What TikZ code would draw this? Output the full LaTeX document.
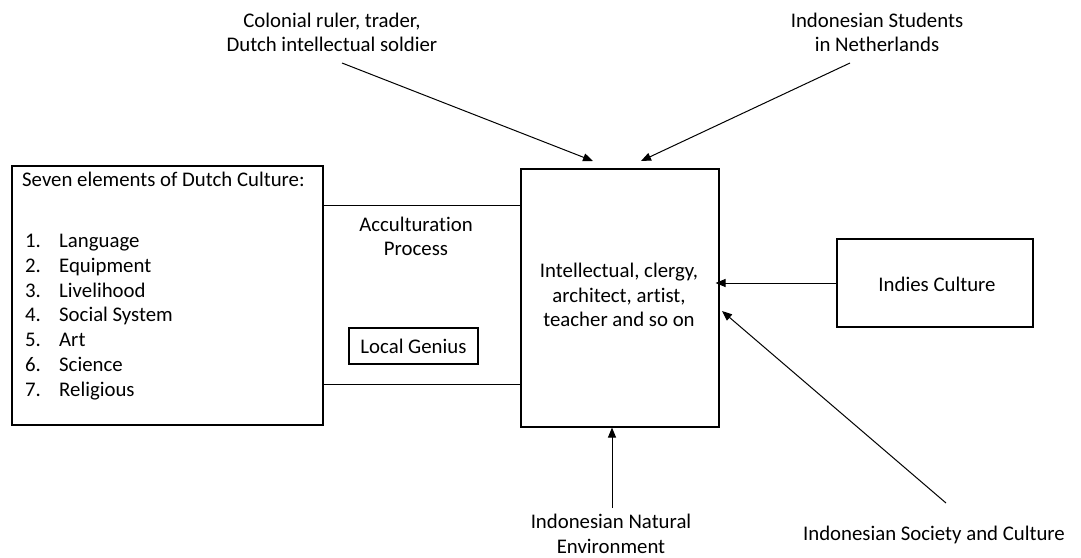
\documentclass[tikz,border=0pt]{standalone}
\usepackage{fontspec}
\setmainfont{Carlito}[Ligatures=NoCommon]
\usetikzlibrary{arrows.meta}
\begin{document}
\begin{tikzpicture}[x=1pt,y=-1pt,
  box/.style={draw,line width=1.1pt,inner sep=0pt},
  lbl/.style={font=\fontsize{20.8}{24.5}\selectfont,align=center,inner sep=0pt},
  itm/.style={font=\fontsize{20.8}{24.5}\selectfont,anchor=base west,inner sep=0pt},
  conn/.style={line width=1pt},
  arr/.style={line width=1pt,-{Triangle[length=10pt,width=8pt]}}]
\useasboundingbox (0,0) rectangle (1081,557);
% boxes
\node[box,minimum width=311pt,minimum height=259pt] (dutch) at (167.5,295.5) {};
\node[box,minimum width=198pt,minimum height=258pt] (mid) at (620,298) {};
\node[box,minimum width=196pt,minimum height=88pt] (indies) at (935,283) {};
\node[box,minimum width=129pt,minimum height=36pt] (genius) at (413.5,346) {};
% texts
\node[itm] (t0) at (22,186.5) {Seven elements of Dutch Culture:};
\foreach \i/\w [count=\k from 0] in {1/Language,2/Equipment,3/Livelihood,4/Social System,5/Art,6/Science,7/Religious}{
  \node[itm] (n\i) at (25,247.5+24.8*\k) {\i.};
  \node[itm] (w\i) at (59,247.5+24.8*\k) {\w};
}
\node[lbl] (acc) at (416,236.5) {Acculturation\\Process};
\node[lbl] at (genius.center) {Local Genius};
\node[lbl] (midt) at (619,295) {Intellectual, clergy,\\architect, artist,\\teacher and so on};
\node[lbl] at (937,284) {Indies Culture};
\node[lbl] (colonial) at (332,32.5) {Colonial ruler, trader,\\Dutch intellectual soldier};
\node[lbl] (students) at (877,32.5) {Indonesian Students\\in Netherlands};
\node[lbl] (natural) at (611,534) {Indonesian Natural\\Environment};
\node[lbl] (society) at (934,535) {Indonesian Society and Culture};
% coordinates
\coordinate (c1) at (342,63);
\coordinate (c2) at (850,63);
\coordinate (c3) at (612,508);
\coordinate (c4) at (946,503);
\coordinate (e1) at (593,161);
\coordinate (e2) at (641,161);
\coordinate (e4) at (722,311);
% connectors
\draw[conn] (dutch.east |- 0,205) -- (mid.west |- 0,205);
\draw[conn] (dutch.east |- 0,384) -- (mid.west |- 0,384);
\draw[arr] (c1) -- (e1);
\draw[arr] (c2) -- (e2);
\draw[arr] (indies.west) -- ([xshift=-4pt]indies.west -| mid.east);
\draw[arr] (c4) -- (e4);
\draw[arr] (c3) -- (c3 |- mid.south);
\end{tikzpicture}
\end{document}
